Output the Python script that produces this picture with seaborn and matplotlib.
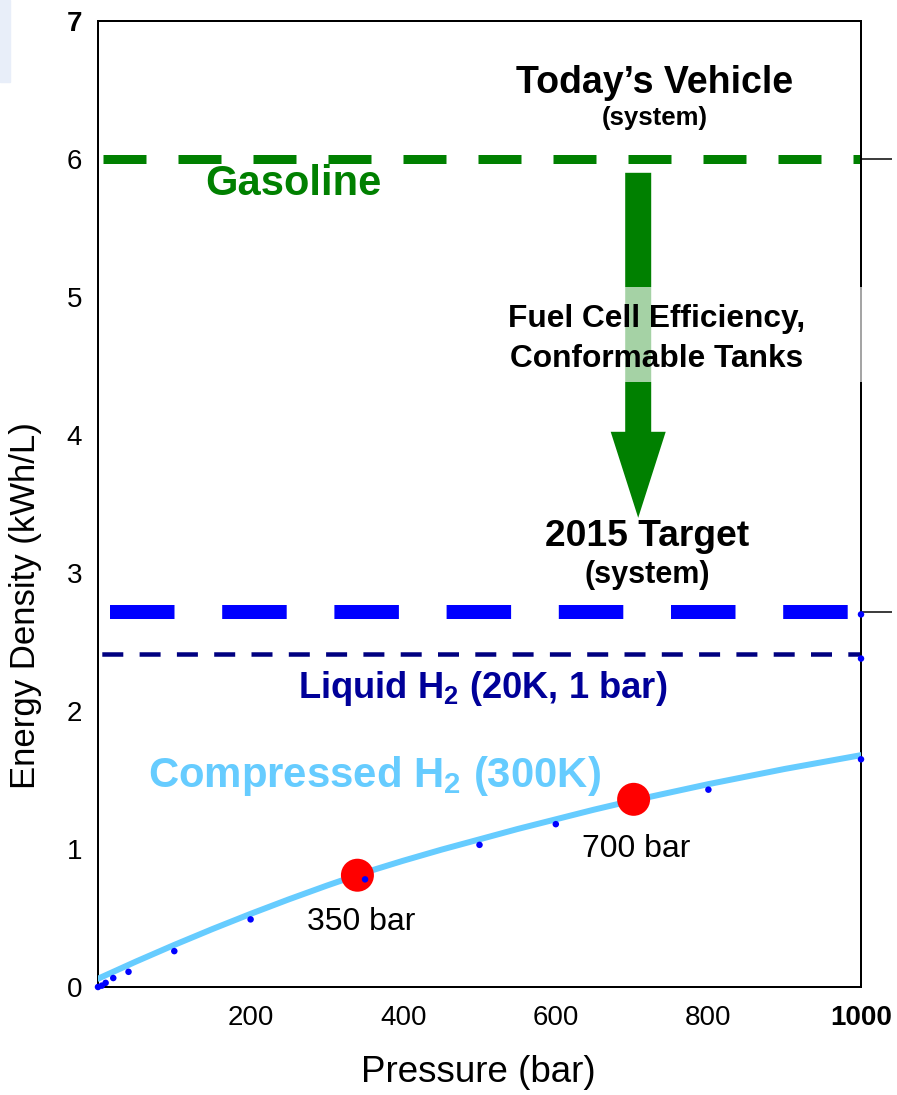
import numpy as np
import pandas as pd
import matplotlib
matplotlib.use("Agg")
import matplotlib.pyplot as plt
from matplotlib.patches import Rectangle, FancyArrow
import seaborn as sns

# ---------------- data ----------------
curve_pressure = [0, 50, 100, 150, 200, 250, 300, 350, 400, 450, 500, 550, 600,
                  650, 700, 750, 800, 850, 900, 950, 1000]
curve_density = [0.06, 0.185, 0.305, 0.42, 0.53, 0.635, 0.735, 0.83, 0.915, 0.995, 1.07,
                 1.145, 1.215, 1.285, 1.35, 1.41, 1.47, 1.525, 1.58, 1.63, 1.68]

dot_pressure = [0, 5, 10, 20, 40, 100, 200, 350, 500, 600, 800, 1000, 1000, 1000]
dot_density = [0.0, 0.01, 0.03, 0.065, 0.11, 0.26, 0.49, 0.78, 1.03, 1.18, 1.43, 1.65, 2.38, 2.70]

tank_pressure = [340, 702]
tank_density = [0.81, 1.36]
tank_labels = ["350 bar", "700 bar"]

gasoline_level = 6.0
target_level = 2.72
liquid_level = 2.41

arrow_top = 5.90
arrow_tip = 3.40
arrow_x = 708

x_ticks = [200, 400, 600, 800, 1000]
y_ticks = [0, 1, 2, 3, 4, 5, 6, 7]

# ---------------- style ----------------
sns.set_theme(style="white")
plt.rcParams["font.family"] = ["Liberation Sans", "DejaVu Sans"]
plt.rcParams["lines.scale_dashes"] = False
plt.rcParams["mathtext.fontset"] = "custom"
plt.rcParams["mathtext.rm"] = "Liberation Sans:bold"
plt.rcParams["mathtext.bf"] = "Liberation Sans:bold"
plt.rcParams["mathtext.it"] = "Liberation Sans:bold"

PX = 0.72  # points per pixel at dpi 100

fig = plt.figure(figsize=(8.97, 10.95), dpi=100)
fig.patch.set_facecolor("white")
ax = fig.add_axes([98 / 897, 1 - 987 / 1095, 763 / 897, 966 / 1095])
ax.set_facecolor("white")

# decorative patch top-left
fig.add_artist(Rectangle((0, 1 - 82 / 1095), 10 / 897, 82 / 1095,
                         transform=fig.transFigure, color="#e8eef9", zorder=0))

# ---------------- horizontal reference lines ----------------
ax.axhline(gasoline_level, color="#008000", lw=9 * PX,
           linestyle=(70 * PX, (43 * PX, 32 * PX)), zorder=2)
ax.axhline(target_level, color="#0000ff", lw=14 * PX,
           linestyle=(100.2 * PX, (64.5 * PX, 47.7 * PX)), zorder=2)
ax.axhline(liquid_level, color="#000080", lw=4.5 * PX,
           linestyle=(33.5 * PX, (21 * PX, 16.3 * PX)), zorder=2)

# outside ticks on the right
for lvl in [gasoline_level, target_level]:
    ax.plot([1000, 1041], [lvl, lvl], color="black", lw=1.5 * PX,
            clip_on=False, zorder=3, solid_capstyle="butt")

# ---------------- curve & points ----------------
curve_df = pd.DataFrame({"p": curve_pressure, "d": curve_density})
sns.lineplot(data=curve_df, x="p", y="d", ax=ax, color="#66ccff",
             lw=6 * PX, zorder=3, sort=True)

tank_df = pd.DataFrame({"p": tank_pressure, "d": tank_density})
sns.scatterplot(data=tank_df, x="p", y="d", ax=ax, color="#ff0000",
                s=(33 * PX) ** 2, edgecolor="none", zorder=4)

dot_df = pd.DataFrame({"p": dot_pressure, "d": dot_density})
sns.scatterplot(data=dot_df, x="p", y="d", ax=ax, color="#0000ff",
                s=(6.5 * PX) ** 2, edgecolor="none", zorder=5, clip_on=False)

# ---------------- arrow ----------------
arr = FancyArrow(arrow_x, arrow_top, 0, arrow_tip - arrow_top,
                 width=26 / 0.763, head_width=55 / 0.763,
                 head_length=86 / 138, length_includes_head=True,
                 color="#008000", lw=0, zorder=2.6)
ax.add_patch(arr)

# translucent box behind the arrow label
ax.add_patch(Rectangle((464, 4.384), 540, 0.688, facecolor="white",
                       alpha=0.65, edgecolor="none", zorder=3, clip_on=False))

# ---------------- texts ----------------
ax.text(730, 6.478, "Today\u2019s Vehicle", ha="center", va="baseline",
        fontsize=27, fontweight="bold", color="black", zorder=6)
ax.text(730, 6.246, "(system)", ha="center", va="baseline",
        fontsize=18.5, fontweight="bold", color="black", zorder=6)
ax.text(256, 5.74, "Gasoline", ha="center", va="baseline",
        fontsize=30, fontweight="bold", color="#008000", zorder=6)
ax.text(732, 4.783, "Fuel Cell Efficiency,", ha="center", va="baseline",
        fontsize=22.8, fontweight="bold", color="black", zorder=6)
ax.text(732, 4.493, "Conformable Tanks", ha="center", va="baseline",
        fontsize=22.8, fontweight="bold", color="black", zorder=6)
ax.text(720, 3.196, "2015 Target", ha="center", va="baseline",
        fontsize=26.8, fontweight="bold", color="black", zorder=6)
ax.text(720, 2.928, "(system)", ha="center", va="baseline",
        fontsize=22, fontweight="bold", color="black", zorder=6)
ax.text(504, 2.094, r"Liquid H$_{2}$ (20K, 1 bar)", ha="center", va="baseline",
        fontsize=26.2, fontweight="bold", color="#000099", zorder=6)
ax.text(363, 1.449, r"Compressed H$_{2}$ (300K)", ha="center", va="baseline",
        fontsize=30.2, fontweight="bold", color="#66ccff", zorder=6)
ax.text(345, 0.413, tank_labels[0], ha="center", va="baseline",
        fontsize=23, color="black", zorder=6)
ax.text(706, 0.942, tank_labels[1], ha="center", va="baseline",
        fontsize=23, color="black", zorder=6)

# ---------------- axes ----------------
ax.set_xlim(0, 1000)
ax.set_ylim(0, 7)
ax.set_xticks(x_ticks)
ax.set_yticks(y_ticks)
ax.set_xticklabels([str(v) for v in x_ticks])
ax.set_yticklabels([str(v) for v in y_ticks])
ax.tick_params(axis="both", direction="in", length=9 * PX, width=1.5 * PX,
               color="black", labelsize=20, labelcolor="black")
ax.tick_params(axis="x", pad=13)
ax.tick_params(axis="y", pad=11.5)
ax.get_yticklabels()[-1].set_fontweight("bold")
ax.get_xticklabels()[-1].set_fontweight("bold")

for sp in ax.spines.values():
    sp.set_visible(True)
    sp.set_color("black")
    sp.set_linewidth(2 * PX)
    sp.set_zorder(2.5)

ax.set_xlabel("Pressure (bar)", fontsize=26.5, color="black")
ax.set_ylabel("Energy Density (kWh/L)", fontsize=25, color="black")
ax.xaxis.set_label_coords(0.498, -0.070)
ax.yaxis.set_label_coords(-0.0734, 0.395)
ax.grid(False)

fig.savefig("out.png", dpi=100, facecolor="white")
